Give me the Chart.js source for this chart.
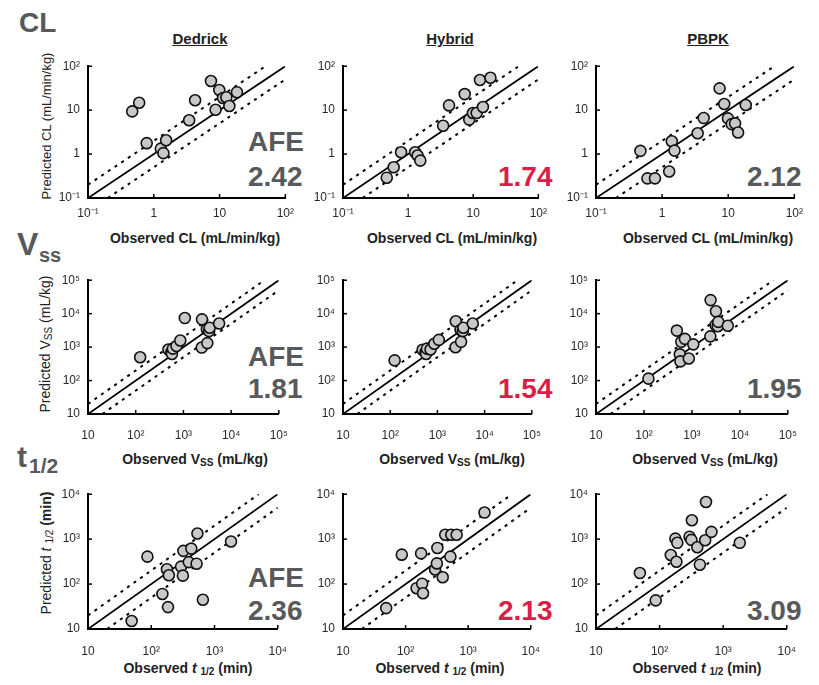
<!DOCTYPE html>
<html>
<head>
<meta charset="utf-8">
<script src="https://cdn.jsdelivr.net/npm/chart.js@4.4.1/dist/chart.umd.min.js"></script>
<style>
  body { margin: 0; background: #fff; }
  #page { position: relative; width: 819px; height: 685px; overflow: hidden; font-family: "Liberation Sans", Arial, sans-serif; }
  #page canvas { position: absolute; }
  .lbl { position: absolute; line-height: 1; white-space: nowrap; }
  .row { font-weight: bold; color: #58595b; }
  .afe { font-weight: bold; font-size: 28px; color: #58595b; }
  .red { color: #d91e48; }
  .head { font-weight: bold; font-size: 15px; color: #222; text-decoration: underline; transform: translateX(-50%); }
  .xt { font-weight: bold; font-size: 14px; color: #222; transform: translateX(-50%); }
  .yt { font-size: 14px; color: #222; transform: translate(-50%, -50%) rotate(-90deg); }
  sub { font-size: 10px; vertical-align: -2px; }
</style>
</head>
<body>
<div id="page">
  <div class="lbl row" style="left:19px; top:9px; font-size:28px;">CL</div>
  <div class="lbl row" style="left:17px; top:228px; font-size:32px;">V</div>
  <div class="lbl row" style="left:39px; top:245px; font-size:20px;">ss</div>
  <div class="lbl row" style="left:17px; top:442px; font-size:30px;">t</div>
  <div class="lbl row" style="left:29px; top:455px; font-size:21px;">1/2</div>

  <div class="lbl head" style="left:200px; top:31px;">Dedrick</div>
  <div class="lbl head" style="left:450px; top:31px;">Hybrid</div>
  <div class="lbl head" style="left:708px; top:31px;">PBPK</div>

  <div class="lbl yt" style="left:46px; top:126px; font-size:13px;">Predicted CL (mL/min/kg)</div>
  <div class="lbl yt" style="left:46px; top:344px;">Predicted V<sub>SS</sub> (mL/kg)</div>
  <div class="lbl yt" style="left:47px; top:553px;">Predicted <i>t</i> <sub>1/2</sub> <b>(min)</b></div>

  <div class="lbl xt" style="left:195px; top:231px;">Observed CL (mL/min/kg)</div>
  <div class="lbl xt" style="left:452px; top:231px;">Observed CL (mL/min/kg)</div>
  <div class="lbl xt" style="left:708px; top:231px;">Observed CL (mL/min/kg)</div>
  <div class="lbl xt" style="left:195px; top:452px;">Observed V<sub>SS</sub> (mL/kg)</div>
  <div class="lbl xt" style="left:452px; top:452px;">Observed V<sub>SS</sub> (mL/kg)</div>
  <div class="lbl xt" style="left:705px; top:452px;">Observed V<sub>SS</sub> (mL/kg)</div>
  <div class="lbl xt" style="left:188px; top:661px;">Observed <i>t</i> <sub>1/2</sub> (min)</div>
  <div class="lbl xt" style="left:440px; top:661px;">Observed <i>t</i> <sub>1/2</sub> (min)</div>
  <div class="lbl xt" style="left:697px; top:661px;">Observed <i>t</i> <sub>1/2</sub> (min)</div>

  <div class="lbl afe" style="left:248px; top:128px;">AFE</div>
  <div class="lbl afe" style="left:248px; top:343px;">AFE</div>
  <div class="lbl afe" style="left:248px; top:564px;">AFE</div>
  <div id="afeValues"></div>
</div>

<script>
// observed values (shared by the three models in each row)
const clObserved = [0.47, 0.60, 0.78, 1.28, 1.40, 1.54, 3.45, 4.25, 7.4, 8.7, 9.9, 11.3, 12.7, 14.1, 18.4];
const vssObserved = [124, 485, 560, 575, 600, 715, 860, 1070, 2420, 2450, 3100, 3170, 3450, 3550, 5600];
const thalfObserved = [49, 87, 150, 177, 184, 190, 296, 316, 322, 392, 430, 521, 537, 655, 1825];

// predicted CL (mL/min/kg)
const clDedrick = [9.35, 14.7, 1.77, 1.33, 1.05, 2.06, 5.9, 16.8, 46, 10.2, 28.8, 18.9, 19.6, 12.4, 25.6];
const clHybrid = [0.29, 0.50, 1.1, 1.1, 0.93, 0.71, 4.4, 12.8, 23.2, 6.1, 8.6, 8.6, 48.5, 11.8, 54.6];
const clPBPK = [1.18, 0.28, 0.28, 0.40, 1.96, 1.2, 2.98, 6.6, 31.3, 13.8, 6.5, 4.8, 5.0, 3.1, 13.1];

// predicted Vss (mL/kg)
const vssDedrick = [499, 848, 700, 622, 900, 1081, 1574, 7380, 968, 6760, 3405, 1318, 3000, 3802, 5070];
const vssHybrid = [400, 829, 700, 622, 900, 848, 1262, 1644, 989, 5920, 3260, 1440, 3000, 3800, 5070];
const vssPBPK = [114, 3119, 608, 374, 1440, 1757, 457, 1208, 2095, 25400, 4540, 11750, 4200, 5660, 4345];

// predicted t1/2 (min)
const thalfDedrick = [15.1, 408, 60.3, 214, 30.7, 157, 245, 154, 549, 308, 616, 284, 1337, 44.8, 885];
const thalfHybrid = [29.2, 451, 81, 481, 102, 62.3, 211, 288, 637, 142, 1250, 408, 1250, 1250, 3900];
const thalfPBPK = [176, 43.4, 443, 1026, 313, 828, 1133, 961, 2627, 658, 270, 946, 6720, 1452, 828];

// average fold error per panel
const afeCL = [2.42, 1.74, 2.12];
const afeVss = [1.81, 1.54, 1.95];
const afeThalf = [2.36, 2.13, 3.09];
const bestModel = 1;

// axis ticks
const clTicks = [0.1, 1, 10, 100];
const clTickLabels = ["10⁻¹", "1", "10", "10²"];
const vssTicks = [10, 100, 1000, 10000, 100000];
const vssTickLabels = ["10", "10²", "10³", "10⁴", "10⁵"];
const thalfTicks = [10, 100, 1000, 10000];
const thalfTickLabels = ["10", "10²", "10³", "10⁴"];

const rows = [
  { obs: clObserved, preds: [clDedrick, clHybrid, clPBPK], afe: afeCL, ticks: clTicks, labels: clTickLabels, top: 61, bottom: 198, xPad: 8, afeTop: 163 },
  { obs: vssObserved, preds: [vssDedrick, vssHybrid, vssPBPK], afe: afeVss, ticks: vssTicks, labels: vssTickLabels, top: 275, bottom: 414, xPad: 14, afeTop: 375 },
  { obs: thalfObserved, preds: [thalfDedrick, thalfHybrid, thalfPBPK], afe: afeThalf, ticks: thalfTicks, labels: thalfTickLabels, top: 489, bottom: 629, xPad: 15, afeTop: 597 }
];
const cols = [{ left: 88, right: 286, afeLeft: 248 }, { left: 343, right: 539, afeLeft: 498 }, { left: 596, right: 795, afeLeft: 747 }];

// tick marks point into the plot
const innerTicks = {
  id: "innerTicks",
  afterDraw(chart) {
    const { ctx, chartArea: a, scales: { x, y } } = chart;
    ctx.save();
    ctx.strokeStyle = "#000";
    ctx.lineWidth = 1.5;
    x.ticks.forEach(t => {
      const px = x.getPixelForValue(t.value);
      ctx.beginPath(); ctx.moveTo(px, a.bottom); ctx.lineTo(px, a.bottom - 4); ctx.stroke();
    });
    y.ticks.forEach(t => {
      const py = y.getPixelForValue(t.value);
      ctx.beginPath(); ctx.moveTo(a.left, py); ctx.lineTo(a.left + 4, py); ctx.stroke();
    });
    ctx.restore();
  }
};

const tickFont = { family: "Liberation Sans", size: 12 };
const page = document.getElementById("page");
const afeBox = document.getElementById("afeValues");

rows.forEach(row => {
  const lo = row.ticks[0], hi = row.ticks[row.ticks.length - 1];
  cols.forEach((col, c) => {
    const canvas = document.createElement("canvas");
    const w = col.right - col.left + 60, h = row.bottom - row.top + 44;
    canvas.width = w; canvas.height = h;
    canvas.style.left = (col.left - 44) + "px";
    canvas.style.top = (row.top - 10) + "px";
    page.appendChild(canvas);

    const points = row.obs.map((o, i) => ({ x: o, y: row.preds[c][i] }));
    const axis = (pad, fitKey, fitVal) => ({
      type: "logarithmic",
      min: lo, max: hi,
      grid: { display: false, drawTicks: false },
      border: { display: true, color: "#000", width: 2 },
      afterBuildTicks: s => { s.ticks = row.ticks.map(v => ({ value: v })); },
      afterFit: s => { s[fitKey] = fitVal; },
      ticks: {
        autoSkip: false, maxRotation: 0, padding: pad,
        font: tickFont, color: "#2a2a2a",
        callback: (v, i) => row.labels[i]
      }
    });

    new Chart(canvas.getContext("2d"), {
      type: "scatter",
      data: {
        datasets: [
          { data: points, pointRadius: 5.5, pointBackgroundColor: "#c8c8c8", pointBorderColor: "#111", pointBorderWidth: 1.6 },
          { data: [{ x: lo, y: lo }, { x: hi, y: hi }], showLine: true, pointRadius: 0, borderColor: "#000", borderWidth: 1.8 },
          { data: [{ x: lo, y: lo * 2 }, { x: hi / 2, y: hi }], showLine: true, pointRadius: 0, borderColor: "#000", borderWidth: 2, borderDash: [3, 5] },
          { data: [{ x: lo * 2, y: lo }, { x: hi, y: hi / 2 }], showLine: true, pointRadius: 0, borderColor: "#000", borderWidth: 2, borderDash: [3, 5] }
        ]
      },
      options: {
        responsive: false,
        animation: false,
        devicePixelRatio: 1,
        layout: { padding: { top: 10, right: 16, left: 0, bottom: 0 } },
        plugins: { legend: { display: false }, tooltip: { enabled: false } },
        scales: { x: axis(row.xPad, "height", 34), y: axis(8, "width", 44) }
      },
      plugins: [innerTicks]
    });

    const v = document.createElement("div");
    v.className = "lbl afe" + (c === bestModel ? " red" : "");
    v.style.left = col.afeLeft + "px";
    v.style.top = row.afeTop + "px";
    v.textContent = row.afe[c].toFixed(2);
    afeBox.appendChild(v);
  });
});
</script>
</body>
</html>
